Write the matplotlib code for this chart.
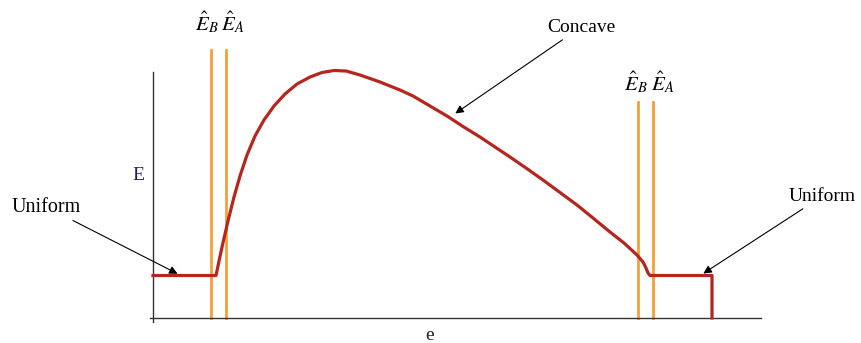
import matplotlib
matplotlib.use("Agg")
import matplotlib.pyplot as plt

plt.rcParams['font.family'] = ['Liberation Serif', 'DejaVu Serif']
plt.rcParams['mathtext.fontset'] = 'stix'

# effort curve: flat (uniform) part, concave hump, flat part, drop
e_vals = [0, 63, 69, 75, 81, 87, 94, 102, 111, 121, 132, 144, 157, 169, 181,
          193, 207, 227, 247, 260, 277, 294, 310, 327, 342, 357, 373, 390,
          407, 424, 440, 457, 471, 484, 490, 493, 495, 497, 559, 559]
E_vals = [42.5, 42.5, 71, 97, 121, 142, 163, 182, 198, 212, 224, 234, 241,
          245.5, 247.5, 247, 243, 236, 228, 222, 212, 202, 191.5, 181, 171,
          161, 150, 138, 125.5, 113, 100, 86, 75, 63, 56, 50, 45, 42.5,
          42.5, 0]

# thresholds E_B, E_A (two pairs) and the height of their markers
thr_left = [58, 73]
thr_right = [485, 500]
thr_left_top = 268
thr_right_top = 216

red = '#b5261e'
orange = '#f4a03a'

fig = plt.figure(figsize=(8.61, 3.43), dpi=100)
ax = fig.add_axes([150 / 861, (343 - 322) / 343, (761 - 150) / 861, (322 - 72) / 343])
ax.set_xlim(-3, 608)
ax.set_ylim(-4, 246)

for s in ['top', 'right']:
    ax.spines[s].set_visible(False)
ax.spines['left'].set_position(('data', 0))
ax.spines['bottom'].set_position(('data', 0))
for s in ['left', 'bottom']:
    ax.spines[s].set_color('#333333')
    ax.spines[s].set_linewidth(1.0)
ax.set_xticks([])
ax.set_yticks([])
ax.patch.set_visible(False)

for x in thr_left:
    ax.plot([x, x], [0, thr_left_top], color=orange, lw=2.0, clip_on=False, zorder=2)
for x in thr_right:
    ax.plot([x, x], [0, thr_right_top], color=orange, lw=2.0, clip_on=False, zorder=2)

ax.plot(e_vals, E_vals, color=red, lw=2.3, clip_on=False, zorder=3,
        solid_joinstyle='round')

labels = [r'$\hat{E}_B$', r'$\hat{E}_A$']
for x, lab in zip([54, 80], labels):
    ax.text(x, 296, lab, fontsize=15, ha='center', va='center', clip_on=False)
for x, lab in zip([483, 510], labels):
    ax.text(x, 236, lab, fontsize=15, ha='center', va='center', clip_on=False)

arrow = dict(arrowstyle='-|>', color='black', lw=0.8, mutation_scale=12)
ax.annotate('Uniform', xy=(27, 43), xytext=(-72, 111), fontsize=14.5,
            ha='right', va='center', arrowprops=arrow, annotation_clip=False)
ax.annotate('Concave', xy=(300, 203), xytext=(394, 291), fontsize=14,
            ha='left', va='center', arrowprops=arrow, annotation_clip=False)
ax.annotate('Uniform', xy=(548, 43), xytext=(636, 122), fontsize=14,
            ha='left', va='center', arrowprops=arrow, annotation_clip=False)

ax.text(-15, 143, 'E', fontsize=14, color='#1f1f5a', ha='center', va='center')
ax.text(277, -17, 'e', fontsize=14, color='#222222', ha='center', va='center')

fig.savefig('out.png', dpi=100)
